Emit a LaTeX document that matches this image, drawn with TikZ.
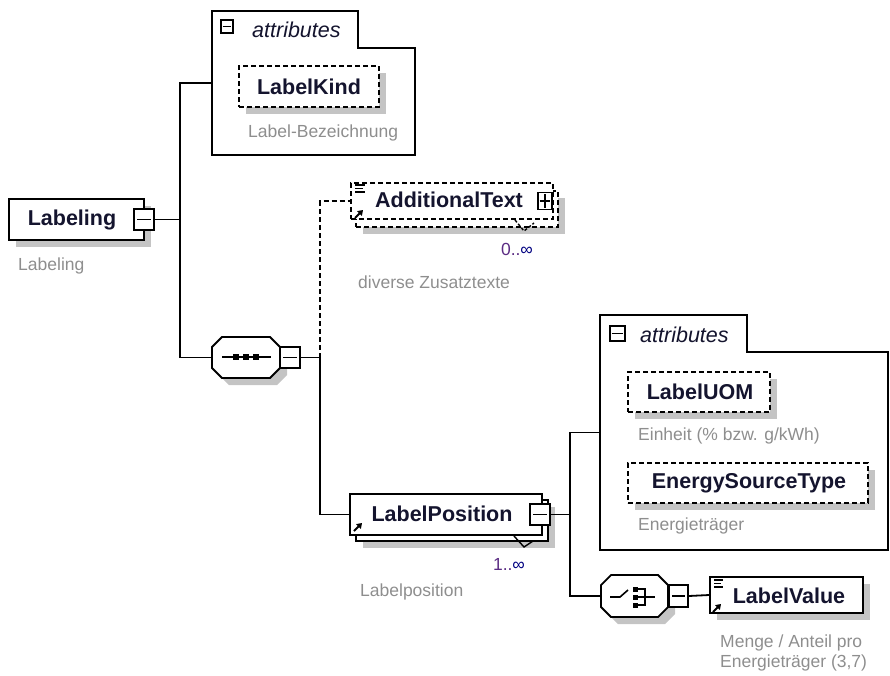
\documentclass[tikz,border=0pt]{standalone}
\usepackage{fontspec}
\setmainfont{Liberation Sans}
\usetikzlibrary{shadows,arrows.meta}
\definecolor{capc}{HTML}{8E8E8E}
\definecolor{occc}{HTML}{5B2C83}
\definecolor{shdc}{HTML}{C4C4C4}
\definecolor{txtc}{HTML}{14142E}
\newcommand\myoct[5]{(#1+#5,#2) -- (#3-#5,#2) -- (#3,#2+#5) -- (#3,#4-#5) -- (#3-#5,#4) -- (#1+#5,#4) -- (#1,#4-#5) -- (#1,#2+#5) -- cycle}
\tikzset{
 shad/.style={drop shadow={shadow xshift=7pt, shadow yshift=-7pt, opacity=1, fill=shdc}},
 box/.style={draw, fill=white, line width=1.8pt, inner sep=0pt, rectangle},
 dbox/.style={box, dash pattern=on 5pt off 3pt},
 tog/.style={draw, fill=white, line width=1.6pt, inner sep=0pt},
 hold/.style={inner sep=0pt, rectangle},
 ename/.style={font=\fontsize{21.5}{24}\selectfont\bfseries, text=txtc, inner sep=0pt},
 capt/.style={font=\fontsize{17.5}{21}\selectfont, text=capc, anchor=west, inner sep=0pt},
 attrt/.style={font=\fontsize{21.5}{24}\selectfont\itshape, text=txtc, anchor=west, inner sep=0pt},
 occt/.style={font=\fontsize{17.5}{20}\selectfont, text=occc, inner sep=0pt},
 conn/.style={line width=1.8pt},
 icon/.style={line width=1.6pt},
 arr/.style={line width=2pt, -{Triangle[length=5pt,width=6.5pt]}}
}
\begin{document}
\begin{tikzpicture}[x=1pt,y=-1pt]
\useasboundingbox (0,0) rectangle (890,675);

% ---------- Labeling ----------
\node[box, shad, minimum width=135pt, minimum height=41pt] (labeling) at (76.5,219.5) {};
\node[ename] (labelingt) at (72,220) {Labeling};
\node[tog, minimum width=20pt, minimum height=21pt] (lbm) at (144,219.5) {};
\draw[icon] ([xshift=4pt]lbm.west) -- ([xshift=-4pt]lbm.east);
\node[capt] (labelingc) at (18,266) {Labeling};

% ---------- attributes 1 ----------
\node[hold, minimum width=203pt, minimum height=144pt] (attr1) at (313.5,83) {};
\draw[line width=1.8pt, fill=white] (212,155) -- (212,11) -- (358,11) -- (358,48) -- (415,48) -- (415,155) -- cycle;
\node[tog, minimum width=12pt, minimum height=13pt] (a1m) at (227,26.5) {};
\draw[icon] ([xshift=2.5pt]a1m.west) -- ([xshift=-2.5pt]a1m.east);
\node[attrt] (a1t) at (252,30) {attributes};
\node[dbox, shad, minimum width=140pt, minimum height=41pt] (labelkind) at (309,86.5) {};
\node[ename] (labelkindt) at (309,87) {LabelKind};
\node[capt] (labelkindc) at (248,133) {Label-Bezeichnung};

% ---------- sequence ----------
\node[hold, minimum width=68pt, minimum height=41pt] (seq) at (246,357.5) {};
\draw[line width=1.8pt, fill=white, shad] \myoct{212}{337}{280}{378}{10};
\draw[icon] (222,357) -- (271,357);
\foreach \px in {236,246,256} \fill (\px-3,354) rectangle (\px+3,360);
\node[tog, minimum width=20pt, minimum height=21pt] (seqm) at (290,357.5) {};
\draw[icon] ([xshift=4pt]seqm.west) -- ([xshift=-4pt]seqm.east);

% ---------- AdditionalText ----------
\node[dbox, shad, minimum width=202pt, minimum height=36pt] (addtextb) at (457,209) {};
\node[dbox, minimum width=202pt, minimum height=36pt] (addtext) at (452,201) {};
\node[ename] (addtextt) at (449,200) {AdditionalText};
\node[tog, minimum width=14pt, minimum height=17pt] (atp) at (545,201) {};
\draw[icon] ([xshift=2.5pt]atp.west) -- ([xshift=-2.5pt]atp.east);
\draw[icon] ([yshift=-2.5pt]atp.north) -- ([yshift=2.5pt]atp.south);
\draw[icon] (355,185) -- (365,185) (355,188.5) -- (363,188.5) (355,192) -- (365,192);
\draw[arr] (355,218) -- (363,210);
\draw[line width=1.4pt, dash pattern=on 3pt off 2pt] (515,220) -- (524,231) -- (534,223);
\node[occt] (addtexto) at (517,249) {0..\textcolor{blue!50!black}{∞}};
\node[capt] (addtextc) at (358,282) {diverse Zusatztexte};

% ---------- LabelPosition ----------
\node[box, shad, minimum width=192pt, minimum height=41pt] (labposb) at (452,520.5) {};
\node[box, minimum width=192pt, minimum height=41pt] (labpos) at (446,514.5) {};
\node[ename] (labpost) at (442,514) {LabelPosition};
\node[tog, minimum width=20pt, minimum height=21pt] (lpm) at (540,514.5) {};
\draw[icon] ([xshift=4pt]lpm.west) -- ([xshift=-4pt]lpm.east);
\draw[arr] (354,531) -- (362,523);
\draw[line width=1.4pt] (514,536) -- (524,547) -- (533,541);
\node[occt] (labposo) at (509,564) {1..\textcolor{blue!50!black}{∞}};
\node[capt] (labposc) at (360,592) {Labelposition};

% ---------- attributes 2 ----------
\node[hold, minimum width=288pt, minimum height=235pt] (attr2) at (744,432.5) {};
\draw[line width=1.8pt, fill=white] (600,550) -- (600,315) -- (747,315) -- (747,352) -- (888,352) -- (888,550) -- cycle;
\node[tog, minimum width=15pt, minimum height=15pt] (a2m) at (617.5,333.5) {};
\draw[icon] ([xshift=2.5pt]a2m.west) -- ([xshift=-2.5pt]a2m.east);
\node[attrt] (a2t) at (640,335) {attributes};
\node[dbox, shad, minimum width=142pt, minimum height=40pt] (labeluom) at (699,392) {};
\node[ename] (labeluomt) at (700,392) {LabelUOM};
\node[capt] (labeluomc) at (638,436) {Einheit (\% bzw. g/kWh)};
\node[dbox, shad, minimum width=240pt, minimum height=40pt] (energy) at (748,483) {};
\node[ename] (energyt) at (749,483) {EnergySourceType};
\node[capt] (energyc) at (638,526) {Energieträger};

% ---------- choice ----------
\node[hold, minimum width=67pt, minimum height=42pt] (choice) at (634.5,596) {};
\draw[line width=1.8pt, fill=white, shad] \myoct{601}{575}{668}{617}{10};
\draw[icon] (610,597) -- (620,597) -- (628,590);
\foreach \py in {589,597,605} \fill (633,\py-2.5) rectangle (638,\py+2.5);
\draw[icon] (638,589) -- (645,589) -- (645,605) -- (638,605) (638,597) -- (655,597);
\node[tog, minimum width=19pt, minimum height=22pt] (chm) at (678.5,596) {};
\draw[icon] ([xshift=4pt]chm.west) -- ([xshift=-4pt]chm.east);

% ---------- LabelValue ----------
\node[box, shad, minimum width=153pt, minimum height=36pt] (labval) at (786.5,595) {};
\node[ename] (labvalt) at (789,596) {LabelValue};
\draw[icon] (714,580) -- (723,580) (714,583.5) -- (721,583.5) (714,587) -- (723,587);
\draw[arr] (713,612) -- (721,604);
\node[capt] (labvalc1) at (720,643) {Menge / Anteil pro};
\node[capt] (labvalc2) at (720,663) {Energieträger (3,7)};

% ---------- connectors ----------
\coordinate (j1) at (180,219.5);
\coordinate (j2) at (320,357.5);
\coordinate (j3) at (570,514.5);
\draw[conn] (lbm.east) -- (j1);
\draw[conn] (attr1.west) -| (j1) |- (seq.west);
\draw[conn] (seqm.east) -- (j2);
\draw[conn, dash pattern=on 5pt off 3pt] (j2) |- (addtext.west);
\draw[conn] (j2) |- (labpos.west);
\draw[conn] (lpm.east) -- (j3);
\draw[conn] (attr2.west) -| (j3) |- (choice.west);
\draw[conn] (chm.east) -- (labval.west);
\end{tikzpicture}
\end{document}
